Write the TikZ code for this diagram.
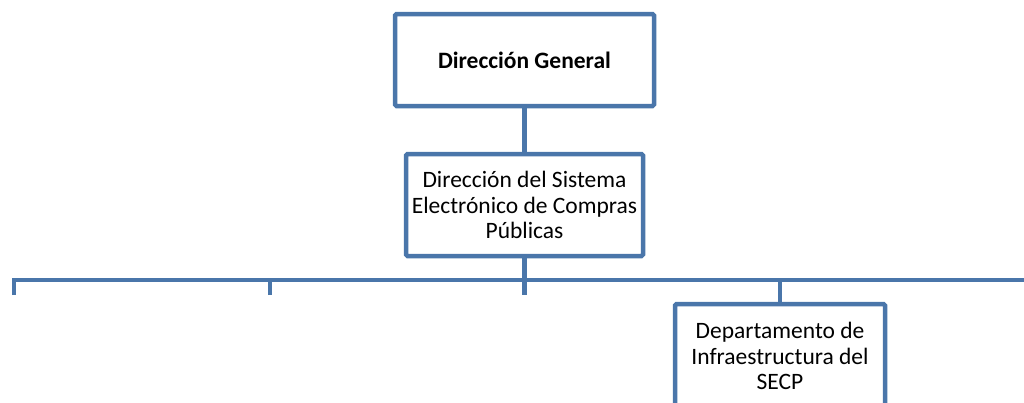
\documentclass[tikz,border=0pt]{standalone}
\usepackage{fontspec}
\setmainfont{Carlito}
\usepackage{xcolor}
\usepackage{tikz}
\usetikzlibrary{positioning}

\definecolor{orgblue}{RGB}{74,118,170}

\begin{document}
\begin{tikzpicture}[
  x=1pt,y=1pt,
  node distance=43.5pt,
  unit/.style={draw=orgblue,line width=4.5pt,rounded corners=1.5pt,fill=white,
    align=center,inner sep=0pt,font=\fontsize{23.5}{25.5}\selectfont},
  link/.style={draw=orgblue,line width=4.5pt}]
\useasboundingbox (0,0) rectangle (1024,-402);
\node[unit,minimum width=259pt,minimum height=92pt,font=\fontsize{23.5}{25.5}\selectfont\bfseries]
  (dgen) at (524.5,-60) {Dirección General};
\node[unit,minimum width=237pt,minimum height=102pt,below=of dgen] (dsecp)
  {Dirección del Sistema\\Electrónico de Compras\\Públicas};
\node[unit,minimum width=210pt,minimum height=104pt] (dinf) at (780,-356)
  {Departamento de\\Infraestructura del\\SECP};
% barra horizontal y bajadas
\coordinate (busR) at (1030,-280);
\coordinate (d1) at (14,-295);
\coordinate (d2) at (270,-295);
\coordinate (d3) at (524.5,-295);
\draw[link] (dgen) -- (dsecp);
\draw[link] (d1) |- (busR);
\draw[link] (d2) -- (d2 |- busR);
\draw[link] (dsecp) -- (d3);
\draw[link] (dinf) -- (dinf.north |- busR);
\end{tikzpicture}
\end{document}
